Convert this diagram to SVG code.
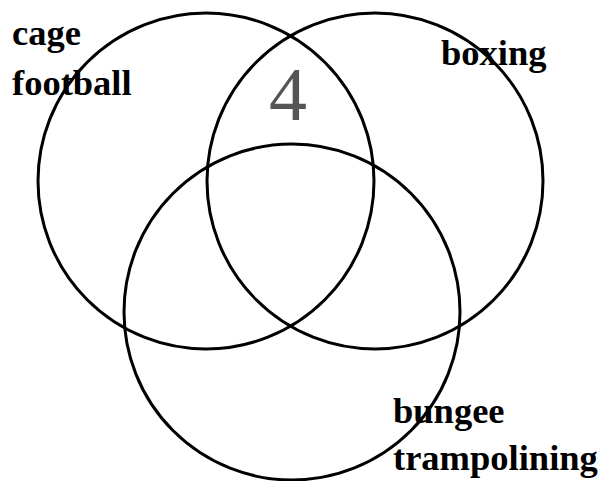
<svg xmlns="http://www.w3.org/2000/svg" width="602" height="481" viewBox="0 0 602 481">
<style>
.c{fill:none;stroke:#000;stroke-width:3}
.l{font-family:"Liberation Serif","Times New Roman",serif;font-weight:bold;font-size:36.5px;fill:#000}
.n{font-family:"Liberation Serif","Times New Roman",serif;font-size:76px;fill:#555}
</style>
<rect width="602" height="481" fill="#fff"/>
<g id="sets">
<g id="cage"><circle class="c" cx="206" cy="181" r="168"/></g>
<g id="boxing"><circle class="c" cx="375" cy="181" r="168"/></g>
<g id="bungee"><circle class="c" cx="292" cy="312" r="168"/></g>
</g>
<g id="labels">
<text class="l" x="12" y="45">cage</text>
<text class="l" x="12" y="95">football</text>
<text class="l" x="441" y="65">boxing</text>
<text class="l" x="393" y="423">bungee</text>
<text class="l" x="393" y="470">trampolining</text>
<text class="n" x="288" y="120" text-anchor="middle">4</text>
</g>
</svg>
